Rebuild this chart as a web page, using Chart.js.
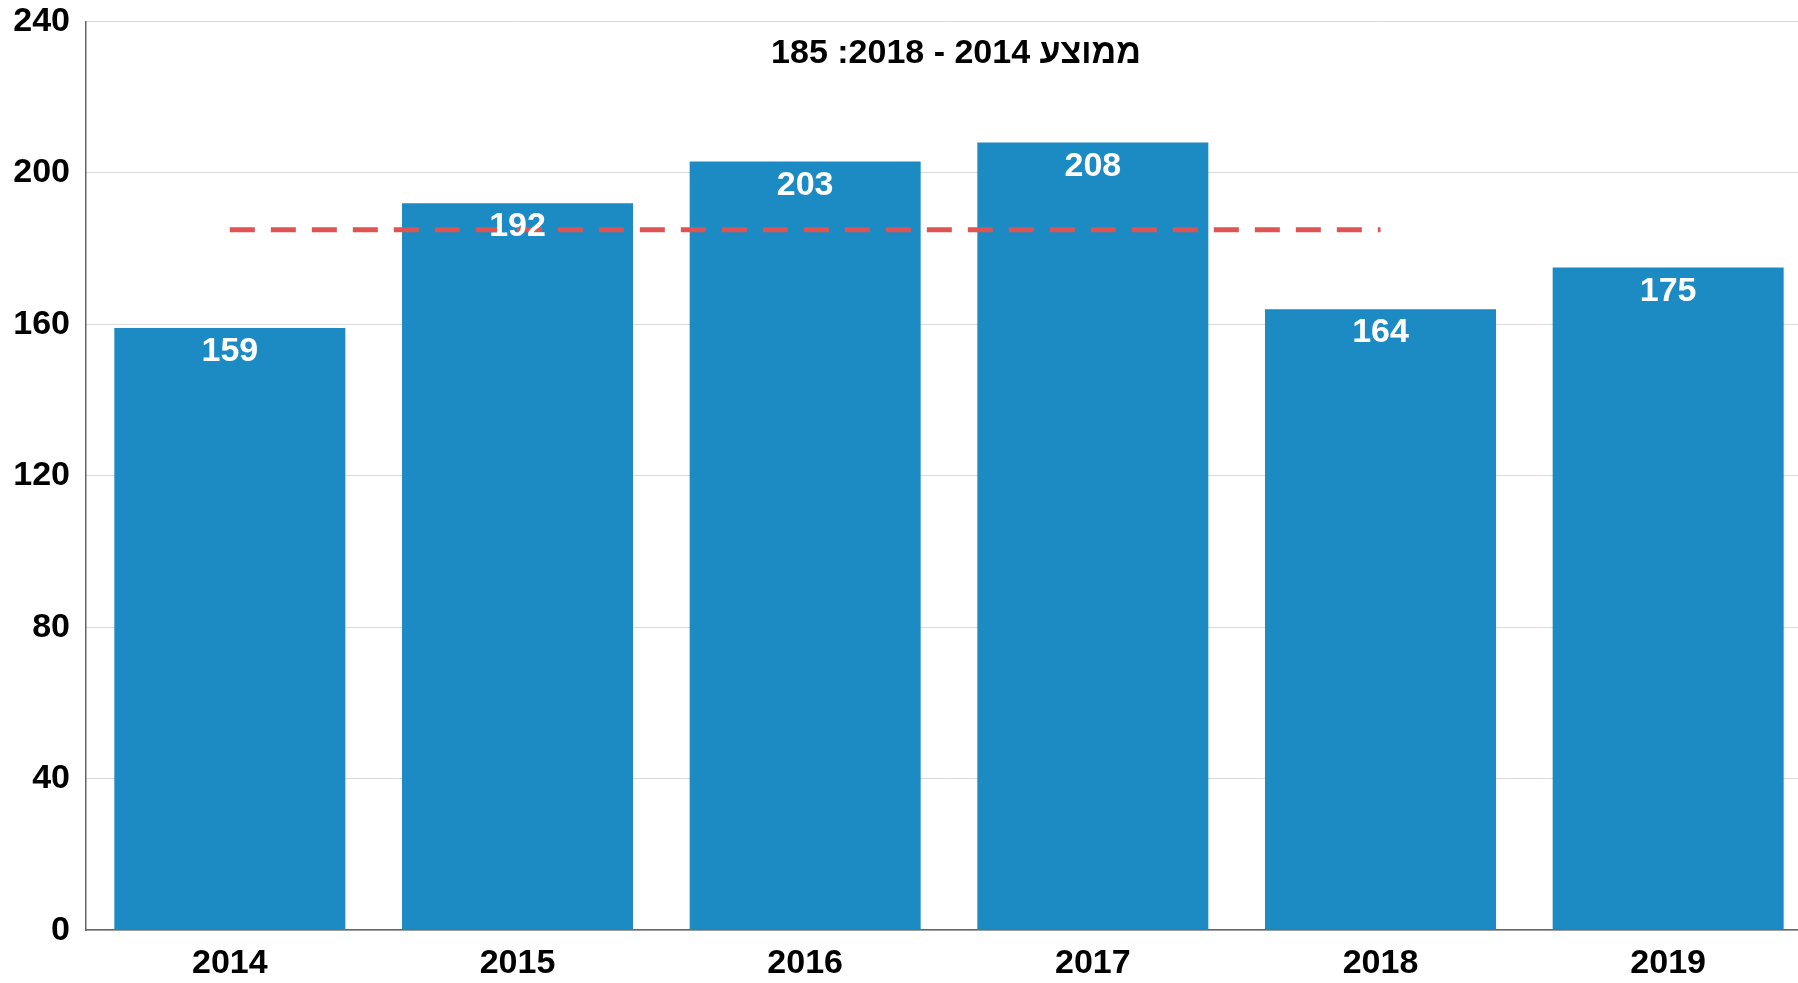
<!DOCTYPE html>
<html>
<head>
<meta charset="utf-8">
<script src="https://cdn.jsdelivr.net/npm/chart.js@4/dist/chart.umd.min.js"></script>
<style>
  html, body { margin: 0; padding: 0; overflow: hidden; background: #fff; }
  #wrap { position: absolute; left: 0; top: -15px; width: 1812px; height: 1012px; }
</style>
</head>
<body>
<div id="wrap"><canvas id="chart"></canvas></div>
<script>
"use strict";

// data
const years = ['2014', '2015', '2016', '2017', '2018', '2019'];
const counts = [159, 192, 203, 208, 164, 175];
const avgLine = [185, 185, 185, 185, 185, null];
const yTicks = [0, 40, 80, 120, 160, 200, 240];
const titleText = 'ממוצע 2014 - 2018: 185';

const FONT = '"Liberation Sans", Arial, sans-serif';

// white numbers near the top of each bar
let barLabels = {
  id: 'barLabels',
  afterDatasetsDraw(chart) {
    let ctx = chart.ctx;
    let meta = chart.getDatasetMeta(1);
    ctx.save();
    ctx.font = 'bold 34px ' + FONT;
    ctx.fillStyle = '#ffffff';
    ctx.textAlign = 'center';
    ctx.textBaseline = 'alphabetic';
    meta.data.forEach(function(bar, i) {
      ctx.fillText(String(counts[i]), bar.x, bar.y + 33);
    });
    ctx.restore();
  }
};

// title sits inside the plot, right-to-left
let innerTitle = {
  id: 'innerTitle',
  afterDraw(chart) {
    let ctx = chart.ctx;
    let area = chart.chartArea;
    ctx.save();
    ctx.font = 'bold 34px ' + FONT;
    ctx.fillStyle = '#000000';
    ctx.direction = 'rtl';
    ctx.textAlign = 'center';
    ctx.textBaseline = 'alphabetic';
    ctx.fillText(titleText, (area.left + area.right) / 2 + 7, area.top + 42);
    ctx.restore();
  }
};

let config = {
  data: {
    labels: years,
    datasets: [
      {
        type: 'line',
        data: avgLine,
        borderColor: '#df5353',
        borderWidth: 5,
        borderDash: [25, 16],
        pointRadius: 0,
        fill: false,
        spanGaps: false,
        order: 0
      },
      {
        type: 'bar',
        data: counts,
        backgroundColor: '#1c8ac3',
        categoryPercentage: 1,
        barPercentage: 0.803,
        order: 1
      }
    ]
  },
  options: {
    responsive: true,
    maintainAspectRatio: false,
    animation: false,
    layout: { padding: 0 },
    plugins: {
      legend: { display: false },
      tooltip: { enabled: false }
    },
    scales: {
      x: {
        grid: { display: false, drawTicks: false },
        border: { display: true, color: '#666666', width: 1.5 },
        ticks: {
          color: '#000000',
          font: { family: FONT, size: 34, weight: 'bold' },
          padding: 13
        }
      },
      y: {
        min: 0,
        max: 240,
        afterBuildTicks(scale) {
          scale.ticks = yTicks.map(v => ({ value: v }));
        },
        afterFit(scale) {
          scale.width = 86;
        },
        grid: { color: '#d9d9d9', lineWidth: 1, drawTicks: false },
        border: { display: true, color: '#666666', width: 1.5 },
        ticks: {
          color: '#000000',
          font: { family: FONT, size: 34, weight: 'bold' },
          padding: 16
        }
      }
    }
  },
  plugins: [barLabels, innerTitle]
};

new Chart(document.getElementById('chart'), config);
</script>
</body>
</html>
